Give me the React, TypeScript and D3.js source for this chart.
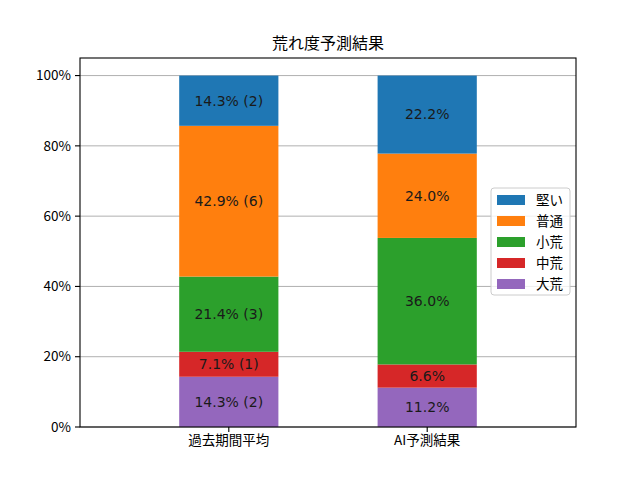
import * as d3 from "d3";
import { useEffect, useRef } from "react";

const groups = ["過去期間平均", "AI予測結果"];
// stacked from bottom to top
const levels = ["大荒", "中荒", "小荒", "普通", "堅い"];
const colors = ["#9467bd", "#d62728", "#2ca02c", "#ff7f0e", "#1f77b4"];
const pastShares = [14.3, 7.1, 21.4, 42.9, 14.3];
const pastCounts = [2, 1, 3, 6, 2];
const aiShares = [11.2, 6.6, 36.0, 24.0, 22.2];
const yTicks = [0, 20, 40, 60, 80, 100];

const W = 640;
const H = 480;
const FONT = "'Noto Sans CJK JP', 'DejaVu Sans', sans-serif";
const LABEL_FONT = "'DejaVu Sans', 'Noto Sans CJK JP', sans-serif";

export default function App() {
  const ref = useRef<SVGSVGElement>(null);

  useEffect(() => {
    if (!ref.current) return;
    const svg = d3.select(ref.current);
    svg.selectAll("*").remove();

    const left = 80;
    const right = 576;
    const top = 58;
    const bottom = 427;

    const x = d3.scaleLinear().domain([-0.75, 1.75]).range([left, right]);
    const y = d3.scaleLinear().domain([0, 105]).range([bottom, top]);

    svg.append("rect").attr("width", W).attr("height", H).attr("fill", "#fff");

    // grid
    svg
      .append("g")
      .selectAll("line")
      .data(yTicks)
      .enter()
      .append("line")
      .attr("x1", left)
      .attr("x2", right)
      .attr("y1", (d) => y(d))
      .attr("y2", (d) => y(d))
      .attr("stroke", "#b0b0b0")
      .attr("stroke-width", 1);

    const series = [
      levels.map((lv, i) => ({ share: pastShares[i], label: `${pastShares[i].toFixed(1)}% (${pastCounts[i]})` })),
      levels.map((lv, i) => ({ share: aiShares[i], label: `${aiShares[i].toFixed(1)}%` })),
    ];

    const bw = 0.5;
    series.forEach((s, gi) => {
      let base = 0;
      s.forEach((d, li) => {
        const y0 = base;
        const y1 = base + d.share;
        base = y1;
        svg
          .append("rect")
          .attr("x", x(gi - bw / 2))
          .attr("width", x(gi + bw / 2) - x(gi - bw / 2))
          .attr("y", y(y1))
          .attr("height", y(y0) - y(y1))
          .attr("fill", colors[li]);
        svg
          .append("text")
          .attr("x", x(gi))
          .attr("y", y((y0 + y1) / 2))
          .attr("dy", "0.35em")
          .attr("text-anchor", "middle")
          .attr("font-family", LABEL_FONT)
          .attr("font-size", 14)
          .attr("fill", "#1a1a1a")
          .text(d.label);
      });
    });

    // spines
    svg
      .append("rect")
      .attr("x", left)
      .attr("y", top)
      .attr("width", right - left)
      .attr("height", bottom - top)
      .attr("fill", "none")
      .attr("stroke", "#000")
      .attr("stroke-width", 1.1);

    // y axis
    const yAxis = svg.append("g");
    yTicks.forEach((t) => {
      yAxis
        .append("line")
        .attr("x1", left - 5)
        .attr("x2", left)
        .attr("y1", y(t))
        .attr("y2", y(t))
        .attr("stroke", "#000")
        .attr("stroke-width", 1.1);
      yAxis
        .append("text")
        .attr("x", left - 9)
        .attr("y", y(t))
        .attr("dy", "0.35em")
        .attr("text-anchor", "end")
        .attr("font-family", FONT)
        .attr("font-size", 13.5)
        .attr("fill", "#000")
        .text(`${t}%`);
    });

    // x axis
    groups.forEach((g, i) => {
      svg
        .append("line")
        .attr("x1", x(i))
        .attr("x2", x(i))
        .attr("y1", bottom)
        .attr("y2", bottom + 5)
        .attr("stroke", "#000")
        .attr("stroke-width", 1.1);
      svg
        .append("text")
        .attr("x", x(i))
        .attr("y", bottom + 18)
        .attr("text-anchor", "middle")
        .attr("font-family", FONT)
        .attr("font-size", 13.5)
        .attr("fill", "#000")
        .text(g);
    });

    // title
    svg
      .append("text")
      .attr("x", (left + right) / 2)
      .attr("y", top - 9)
      .attr("text-anchor", "middle")
      .attr("font-family", FONT)
      .attr("font-size", 16)
      .attr("fill", "#000")
      .text("荒れ度予測結果");

    // legend (top level first)
    const lg = svg.append("g").attr("transform", "translate(491,188)");
    lg.append("rect")
      .attr("width", 79)
      .attr("height", 107)
      .attr("rx", 3)
      .attr("fill", "#fff")
      .attr("fill-opacity", 0.8)
      .attr("stroke", "#cccccc");
    const order = d3.range(levels.length).reverse();
    order.forEach((li, k) => {
      const cy = 12 + k * 21;
      lg.append("rect")
        .attr("x", 6)
        .attr("y", cy - 5)
        .attr("width", 28)
        .attr("height", 10)
        .attr("fill", colors[li]);
      lg.append("text")
        .attr("x", 45)
        .attr("y", cy)
        .attr("dy", "0.35em")
        .attr("font-family", FONT)
        .attr("font-size", 13.5)
        .attr("fill", "#000")
        .text(levels[li]);
    });
  }, []);

  return <svg ref={ref} width={W} height={H} style={{ display: "block", margin: -8 }} />;
}
